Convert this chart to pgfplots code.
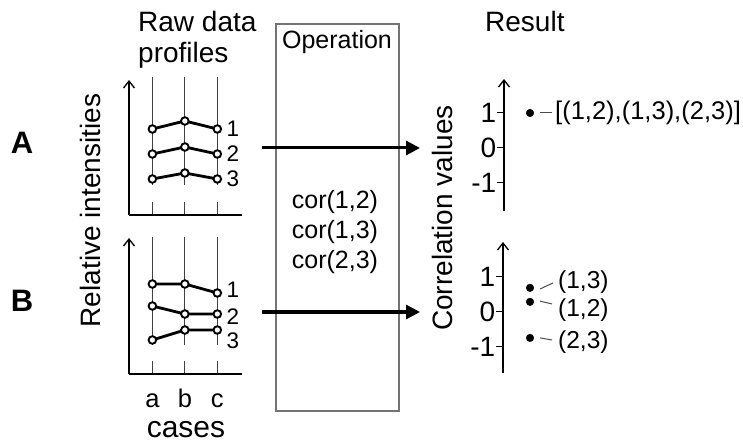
\documentclass[border=0pt]{standalone}
\usepackage{fontspec}
\setmainfont{Liberation Sans}
\usepackage{pgfplots}
\pgfplotsset{compat=1.18}
\usetikzlibrary{arrows.meta}
\tikzset{
  plab/.style={anchor=west, inner sep=0pt, xshift=9pt, font=\fontsize{22.5}{26}\selectfont},
  clab/.style={anchor=west, inner sep=0pt, font=\fontsize{24.5}{29}\selectfont},
}
\begin{document}
\fontsize{28}{33}\selectfont
\begin{tikzpicture}[x=1pt,y=1pt]
\useasboundingbox (0,0) rectangle (743,447);
\pgfplotsset{
  prof/.style={scale only axis, width=113pt, xmin=-0.72, xmax=2.76, ymin=0,
    axis x line=bottom, axis y line=left,
    axis line style={line width=1.3pt, black},
    x axis line style={-}, y axis line style={-{Straight Barb[length=7pt,width=11pt]}},
    xtick={0,1,2}, ytick=\empty, major tick length=13pt, tick align=inside,
    tick style={line width=1pt, black!75},
    clip=false},
  gridl/.style={black!75, line width=1pt, forget plot},
  prl/.style={black, line width=2.8pt, mark=*, mark size=3.8pt,
    mark options={fill=white, draw=black, line width=1.9pt, solid}},
  corr/.style={scale only axis, width=230pt, xmin=0, xmax=230,
    axis x line=none, axis y line=left,
    axis line style={line width=1.3pt, black},
    y axis line style={-{Straight Barb[length=7pt,width=11pt]}},
    ytick={-1,0,1}, yticklabels={-1,0,1},
    major tick length=7pt, tick align=outside, tick style={line width=1pt, black},
    yticklabel style={inner sep=0.5pt},
    clip=false},
  dot/.style={only marks, mark=*, mark size=3.8pt, black},
}
% ---------------- Profile A
\begin{axis}[prof, at={(129pt,232pt)}, anchor=south west, height=135pt, ymax=135, xticklabels={}]
\addplot[gridl] coordinates {(0,30) (0,138)};
\addplot[gridl] coordinates {(1,30) (1,138)};
\addplot[gridl] coordinates {(2,30) (2,138)};
\addplot[prl] coordinates {(0,86) (1,94) (2,86)};
\addplot[prl] coordinates {(0,61) (1,68) (2,61)};
\addplot[prl] coordinates {(0,36) (1,42) (2,36)};
\node[plab] at (axis cs:2,86) {1};
\node[plab] at (axis cs:2,61) {2};
\node[plab] at (axis cs:2,36) {3};
\end{axis}
% ---------------- Profile B
\begin{axis}[prof, at={(129pt,73pt)}, anchor=south west, height=136pt, ymax=136,
  xticklabels={a,b,c}, xticklabel style={anchor=base, yshift=-33pt, inner sep=0pt, font=\fontsize{25.5}{30}\selectfont},
  xlabel={cases}, xlabel style={at={(axis description cs:0.504,0)}, anchor=base, yshift=-63pt, inner sep=0pt, font=\fontsize{30}{36}\selectfont}]
\addplot[gridl] coordinates {(0,29) (0,137)};
\addplot[gridl] coordinates {(1,29) (1,137)};
\addplot[gridl] coordinates {(2,29) (2,137)};
\addplot[prl] coordinates {(0,90) (1,90) (2,81)};
\addplot[prl] coordinates {(0,68) (1,60) (2,60)};
\addplot[prl] coordinates {(0,34) (1,44) (2,44)};
\node[plab] at (axis cs:2,84.5) {1};
\node[plab] at (axis cs:2,57.5) {2};
\node[plab] at (axis cs:2,33) {3};
\end{axis}
% ---------------- Correlation A
\begin{axis}[corr, at={(504pt,236pt)}, anchor=south west, height=132pt, ymin=-1.8, ymax=1.97]
\addplot[dot] coordinates {(26,1)};
\draw[black!70, line width=1pt] (axis cs:36,1) -- (axis cs:48,1);
\node[anchor=west, inner sep=0pt, font=\fontsize{25.5}{30}\selectfont] at (axis cs:51,1) {[(1,2),(1,3),(2,3)]};
\end{axis}
% ---------------- Correlation B
\begin{axis}[corr, at={(503pt,74pt)}, anchor=south west, height=131pt, ymin=-1.743, ymax=2.0]
\addplot[dot] coordinates {(27,0.69) (27,0.29) (27,-0.74)};
\draw[black!70, line width=1pt] (axis cs:37,0.657) -- (axis cs:50,0.83);
\draw[black!70, line width=1pt] (axis cs:37,0.31) -- (axis cs:49,0.23);
\draw[black!70, line width=1pt] (axis cs:37,-0.74) -- (axis cs:49,-0.8);
\node[clab] at (axis cs:55,0.857) {(1,3)};
\node[clab] at (axis cs:55,0.057) {(1,2)};
\node[clab] at (axis cs:55,-0.857) {(2,3)};
\end{axis}
% ---------------- Annotations
\node[anchor=base west, inner sep=0pt] at (138,415) {Raw data};
\node[anchor=base west, inner sep=0pt] at (138,384) {profiles};
\node[anchor=base west, inner sep=0pt] at (485,415) {Result};
\draw[black!55, line width=1.2pt] (276,423) rectangle (399,36);
\node[anchor=base, inner sep=0pt, font=\fontsize{25}{30}\selectfont] at (337,398) {Operation};
\node[inner sep=0pt, font=\fontsize{25}{30}\selectfont] at (335,245) {cor(1,2)};
\node[inner sep=0pt, font=\fontsize{25}{30}\selectfont] at (335,215) {cor(1,3)};
\node[inner sep=0pt, font=\fontsize{25}{30}\selectfont] at (335,185) {cor(2,3)};
\node[font=\fontsize{31}{36}\selectfont\bfseries, inner sep=0pt] at (22,304) {A};
\node[font=\fontsize{31}{36}\selectfont\bfseries, inner sep=0pt] at (22,146) {B};
\node[rotate=90, anchor=base, inner sep=0pt] at (100,236.5) {Relative intensities};
\node[rotate=90, anchor=base, inner sep=0pt] at (452,229) {Correlation values};
\draw[line width=3pt, -{Triangle[length=14pt,width=14pt]}] (262,299) -- (420,299);
\draw[line width=3pt, -{Triangle[length=14pt,width=14pt]}] (262,135) -- (420,135);
\end{tikzpicture}
\end{document}
